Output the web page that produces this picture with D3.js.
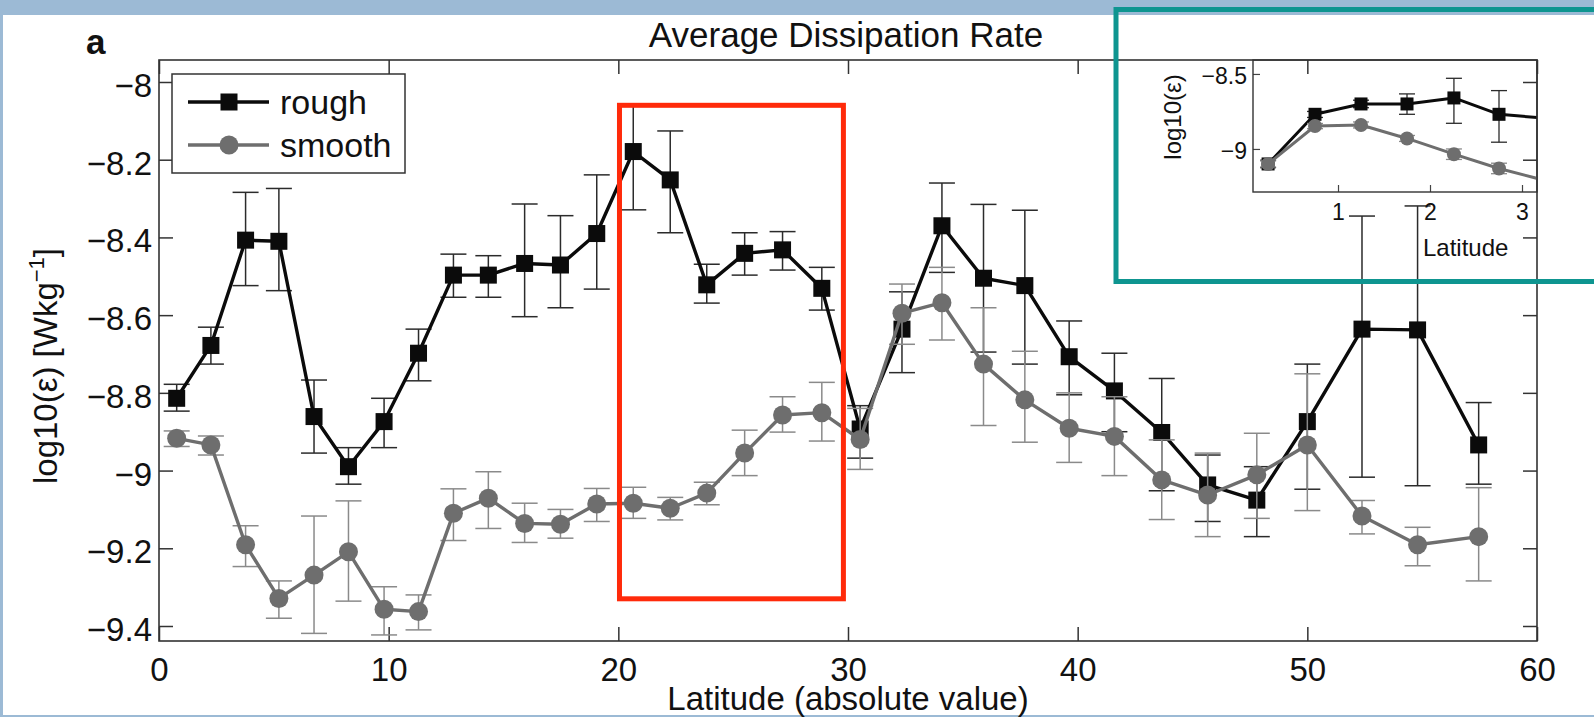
<!DOCTYPE html>
<html>
<head>
<meta charset="utf-8">
<script src="https://cdn.jsdelivr.net/npm/d3@7"></script>
<style>
  html, body { margin: 0; padding: 0; background: #ffffff; }
  svg { display: block; font-family: "Liberation Sans", Arial, Helvetica, sans-serif; }
</style>
</head>
<body>
<svg id="chart" width="1594" height="717"></svg>
<script>
// Latitude bins (absolute value, degrees)
const latitude = [0.77, 2.26, 3.77, 5.22, 6.75, 8.25, 9.8, 11.3, 12.82, 14.34, 15.92, 17.48, 19.06,
  20.65, 22.26, 23.85, 25.5, 27.15, 28.86, 30.53, 32.35, 34.09, 35.9, 37.7, 39.63, 41.6, 43.66,
  45.66, 47.8, 50.0, 52.38, 54.8, 57.46];

// log10 of dissipation rate over rough topography, with upper / lower error limits
const roughMean = [-8.814, -8.678, -8.407, -8.41, -8.861, -8.99, -8.874, -8.698, -8.497, -8.497,
  -8.467, -8.471, -8.39, -8.179, -8.252, -8.522, -8.441, -8.432, -8.531, -8.893, -8.636, -8.37,
  -8.505, -8.524, -8.707, -8.795, -8.902, -9.037, -9.076, -8.874, -8.636, -8.638, -8.934];
const roughUpper = [-8.778, -8.631, -8.284, -8.274, -8.767, -8.941, -8.814, -8.636, -8.443, -8.447,
  -8.314, -8.344, -8.239, -8.06, -8.126, -8.469, -8.388, -8.385, -8.477, -8.833, -8.54, -8.26,
  -8.315, -8.33, -8.615, -8.698, -8.763, -8.96, -8.99, -8.726, -8.345, -8.319, -8.825];
const roughLower = [-8.847, -8.726, -8.524, -8.537, -8.955, -9.035, -8.941, -8.769, -8.554, -8.554,
  -8.604, -8.581, -8.533, -8.329, -8.388, -8.569, -8.497, -8.484, -8.587, -8.968, -8.748, -8.49,
  -8.695, -8.726, -8.805, -8.9, -9.052, -9.131, -9.17, -9.048, -9.017, -9.039, -9.035];

// log10 of dissipation rate over smooth topography
const smoothMean = [-8.917, -8.934, -9.191, -9.329, -9.269, -9.209, -9.357, -9.363, -9.11, -9.071,
  -9.136, -9.138, -9.086, -9.084, -9.097, -9.058, -8.955, -8.857, -8.851, -8.92, -8.595, -8.568,
  -8.726, -8.818, -8.891, -8.912, -9.024, -9.063, -9.011, -8.934, -9.117, -9.191, -9.17];
const smoothUpper = [-8.898, -8.911, -9.142, -9.284, -9.117, -9.078, -9.299, -9.32, -9.047, -9.003,
  -9.084, -9.1, -9.046, -9.043, -9.069, -9.03, -8.896, -8.81, -8.773, -8.84, -8.52, -8.477,
  -8.581, -8.693, -8.8, -8.81, -8.921, -8.955, -8.904, -8.751, -9.077, -9.146, -9.044];
const smoothLower = [-8.938, -8.96, -9.247, -9.38, -9.419, -9.336, -9.423, -9.41, -9.18, -9.149,
  -9.185, -9.174, -9.131, -9.123, -9.127, -9.088, -9.013, -8.901, -8.924, -8.997, -8.675, -8.664,
  -8.884, -8.927, -8.979, -9.013, -9.126, -9.17, -9.123, -9.103, -9.163, -9.245, -9.284];

// Near-equator close-up
const insetLatitude = [0.24, 0.75, 1.25, 1.75, 2.26, 2.75, 3.25];
const insetRough = [-9.1, -8.769, -8.70, -8.70, -8.66, -8.769, -8.795];
const insetRoughUpper = [-9.075, -8.75, -8.675, -8.633, -8.529, -8.611, -8.70];
const insetRoughLower = [-9.125, -8.79, -8.725, -8.769, -8.829, -8.955, -8.89];
const insetSmooth = [-9.1, -8.847, -8.84, -8.93, -9.035, -9.13, -9.21];
const insetSmoothUpper = [-9.08, -8.83, -8.82, -8.91, -9.0, -9.095, -9.17];
const insetSmoothLower = [-9.12, -8.865, -8.86, -8.95, -9.07, -9.165, -9.25];

// Axis ticks
const xTicks = [0, 10, 20, 30, 40, 50, 60];
const yTicks = [-9.4, -9.2, -9, -8.8, -8.6, -8.4, -8.2, -8];
const insetXTicks = [1, 2, 3];
const insetYTicks = [-9, -8.5];

const seriesNames = ["rough", "smooth"];

const BLACK = "#0b0b0b";
const GREY = "#6e6e6e";
const GREY_BAR = "#8a8a8a";

const svg = d3.select("#chart");
const W = 1594, H = 717;

// page frame
svg.append("rect").attr("width", W).attr("height", H).attr("fill", "#9cbad5");
svg.append("rect").attr("x", 3).attr("y", 15).attr("width", W - 3).attr("height", 700).attr("fill", "#ffffff");

// main plot geometry
const plot = { left: 159, top: 60, right: 1537, bottom: 641 };
const x = d3.scaleLinear().domain([0, 60]).range([plot.left, plot.right]);
const y = d3.scaleLinear().domain([-7.9434, -9.4386]).range([plot.top, plot.bottom]);

const fmt = d => d3.format("")(+d.toFixed(2));

// axes with inward ticks
const gx = svg.append("g").attr("transform", `translate(0,${plot.bottom})`)
  .call(d3.axisBottom(x).tickValues(xTicks).tickSizeInner(-14).tickSizeOuter(0).tickPadding(17).tickFormat(fmt));
const gxTop = svg.append("g").attr("transform", `translate(0,${plot.top})`)
  .call(d3.axisTop(x).tickValues(xTicks).tickSizeInner(-14).tickSizeOuter(0).tickFormat(""));
const gy = svg.append("g").attr("transform", `translate(${plot.left},0)`)
  .call(d3.axisLeft(y).tickValues(yTicks).tickSizeInner(-14).tickSizeOuter(0).tickPadding(7).tickFormat(fmt));
const gyRight = svg.append("g").attr("transform", `translate(${plot.right},0)`)
  .call(d3.axisRight(y).tickValues(yTicks).tickSizeInner(-14).tickSizeOuter(0).tickFormat(""));

[gx, gxTop, gy, gyRight].forEach(g => {
  g.select(".domain").remove();
  g.selectAll(".tick line").attr("stroke", "#333").attr("stroke-width", 1.5);
  g.selectAll(".tick text").attr("fill", "#111").attr("font-size", 33)
    .attr("font-family", "'Liberation Sans', Arial, sans-serif");
});
gy.selectAll(".tick text").attr("dy", "0.44em");

svg.append("rect")
  .attr("x", plot.left).attr("y", plot.top)
  .attr("width", plot.right - plot.left).attr("height", plot.bottom - plot.top)
  .attr("fill", "none").attr("stroke", "#333").attr("stroke-width", 1.6);

// draw one series: error bars, connecting line, markers
function drawSeries(g, xs, ys, mean, upper, lower, opt) {
  const pts = mean.map((v, i) => ({ x: xs(opt.lat[i]), m: ys(v), hi: ys(upper[i]), lo: ys(lower[i]) }));
  const bars = g.append("g");
  pts.forEach(p => {
    bars.append("line").attr("x1", p.x).attr("x2", p.x).attr("y1", p.hi).attr("y2", p.lo)
      .attr("stroke", opt.barColor).attr("stroke-width", opt.barWidth);
    [p.hi, p.lo].forEach(yy => bars.append("line")
      .attr("x1", p.x - opt.cap).attr("x2", p.x + opt.cap).attr("y1", yy).attr("y2", yy)
      .attr("stroke", opt.barColor).attr("stroke-width", opt.barWidth));
  });
  g.append("path").datum(pts)
    .attr("d", d3.line().x(d => d.x).y(d => d.m))
    .attr("fill", "none").attr("stroke", opt.color).attr("stroke-width", opt.lineWidth)
    .attr("stroke-linejoin", "round");
  if (opt.marker === "square") {
    g.selectAll(null).data(pts).join("rect")
      .attr("x", d => d.x - opt.size / 2).attr("y", d => d.m - opt.size / 2)
      .attr("width", opt.size).attr("height", opt.size).attr("fill", opt.color);
  } else {
    g.selectAll(null).data(pts).join("circle")
      .attr("cx", d => d.x).attr("cy", d => d.m).attr("r", opt.size / 2).attr("fill", opt.color);
  }
}

const mainG = svg.append("g");
drawSeries(mainG, x, y, roughMean, roughUpper, roughLower,
  { lat: latitude, color: BLACK, barColor: "#2b2b2b", barWidth: 1.5, cap: 13, lineWidth: 3.4, marker: "square", size: 17 });
drawSeries(mainG, x, y, smoothMean, smoothUpper, smoothLower,
  { lat: latitude, color: GREY, barColor: GREY_BAR, barWidth: 1.5, cap: 13, lineWidth: 3.4, marker: "circle", size: 19 });

// legend
const leg = svg.append("g");
leg.append("rect").attr("x", 172).attr("y", 74).attr("width", 233).attr("height", 99)
  .attr("fill", "#fff").attr("stroke", "#333").attr("stroke-width", 1.5);
seriesNames.forEach((name, i) => {
  const ly = 102 + i * 43;
  const c = i === 0 ? BLACK : GREY;
  leg.append("line").attr("x1", 188).attr("x2", 269).attr("y1", ly).attr("y2", ly)
    .attr("stroke", c).attr("stroke-width", 3.4);
  if (i === 0) {
    leg.append("rect").attr("x", 229 - 8.5).attr("y", ly - 8.5).attr("width", 17).attr("height", 17).attr("fill", c);
  } else {
    leg.append("circle").attr("cx", 229).attr("cy", ly).attr("r", 9.5).attr("fill", c);
  }
  leg.append("text").attr("x", 280).attr("y", ly + 11.5).attr("font-size", 34).attr("fill", "#111").text(name);
});

// titles and labels
svg.append("text").attr("x", 846).attr("y", 47).attr("text-anchor", "middle")
  .attr("font-size", 35).attr("fill", "#111").text("Average Dissipation Rate");
svg.append("text").attr("x", 86).attr("y", 54).attr("font-size", 35).attr("font-weight", "bold")
  .attr("fill", "#111").text("a");
svg.append("text").attr("x", 848).attr("y", 710).attr("text-anchor", "middle")
  .attr("font-size", 33).attr("fill", "#111").text("Latitude (absolute value)");
const yl = svg.append("text").attr("transform", "translate(57,366) rotate(-90)")
  .attr("text-anchor", "middle").attr("font-size", 33).attr("fill", "#111");
yl.append("tspan").text("log10(ε) [Wkg");
yl.append("tspan").attr("font-size", 22).attr("dy", -13).text("−1");
yl.append("tspan").attr("dy", 13).text("]");

// highlighted latitude band
svg.append("rect")
  .attr("x", x(20.05)).attr("y", y(-8.06))
  .attr("width", x(29.8) - x(20.05)).attr("height", y(-9.33) - y(-8.06))
  .attr("fill", "none").attr("stroke", "#ff2a0a").attr("stroke-width", 5);

// inset: near-equator close-up
const ins = { left: 1253, top: 60, right: 1537, bottom: 192 };
const xi = d3.scaleLinear().domain([0.076, 3.163]).range([ins.left, ins.right]);
const yi = d3.scaleLinear().domain([-8.407, -9.287]).range([ins.top, ins.bottom]);

const insetG = svg.append("g");
insetG.append("clipPath").attr("id", "insetClip").append("rect")
  .attr("x", ins.left).attr("y", ins.top).attr("width", ins.right - ins.left).attr("height", ins.bottom - ins.top);

const gix = insetG.append("g").attr("transform", `translate(0,${ins.bottom})`)
  .call(d3.axisBottom(xi).tickValues(insetXTicks).tickSizeInner(-7).tickSizeOuter(0).tickPadding(12).tickFormat(d3.format("")));
const giy = insetG.append("g").attr("transform", `translate(${ins.left},0)`)
  .call(d3.axisLeft(yi).tickValues(insetYTicks).tickSizeInner(-7).tickSizeOuter(0).tickPadding(6).tickFormat(fmt));
[gix, giy].forEach(g => {
  g.select(".domain").remove();
  g.selectAll(".tick line").attr("stroke", "#444").attr("stroke-width", 1.2);
  g.selectAll(".tick text").attr("fill", "#111").attr("font-size", 23)
    .attr("font-family", "'Liberation Sans', Arial, sans-serif");
});
giy.selectAll(".tick text").attr("dy", "0.42em");

const insetData = insetG.append("g").attr("clip-path", "url(#insetClip)");
drawSeries(insetData, xi, yi, insetRough, insetRoughUpper, insetRoughLower,
  { lat: insetLatitude, color: BLACK, barColor: "#2b2b2b", barWidth: 1.3, cap: 8, lineWidth: 3, marker: "square", size: 13 });
drawSeries(insetData, xi, yi, insetSmooth, insetSmoothUpper, insetSmoothLower,
  { lat: insetLatitude, color: GREY, barColor: GREY_BAR, barWidth: 1.3, cap: 8, lineWidth: 3, marker: "circle", size: 14 });

insetG.append("rect")
  .attr("x", ins.left).attr("y", ins.top).attr("width", ins.right - ins.left).attr("height", ins.bottom - ins.top)
  .attr("fill", "none").attr("stroke", "#333").attr("stroke-width", 1.4);
insetG.append("text").attr("x", 1423).attr("y", 256).attr("font-size", 24).attr("fill", "#111").text("Latitude");
insetG.append("text").attr("transform", "translate(1181,117) rotate(-90)").attr("text-anchor", "middle")
  .attr("font-size", 24).attr("fill", "#111").text("log10(ε)");

// callout frame around the inset
svg.append("rect").attr("x", 1116).attr("y", 9.5).attr("width", 520).attr("height", 272)
  .attr("fill", "none").attr("stroke", "#0e9590").attr("stroke-width", 5);
</script>
</body>
</html>
